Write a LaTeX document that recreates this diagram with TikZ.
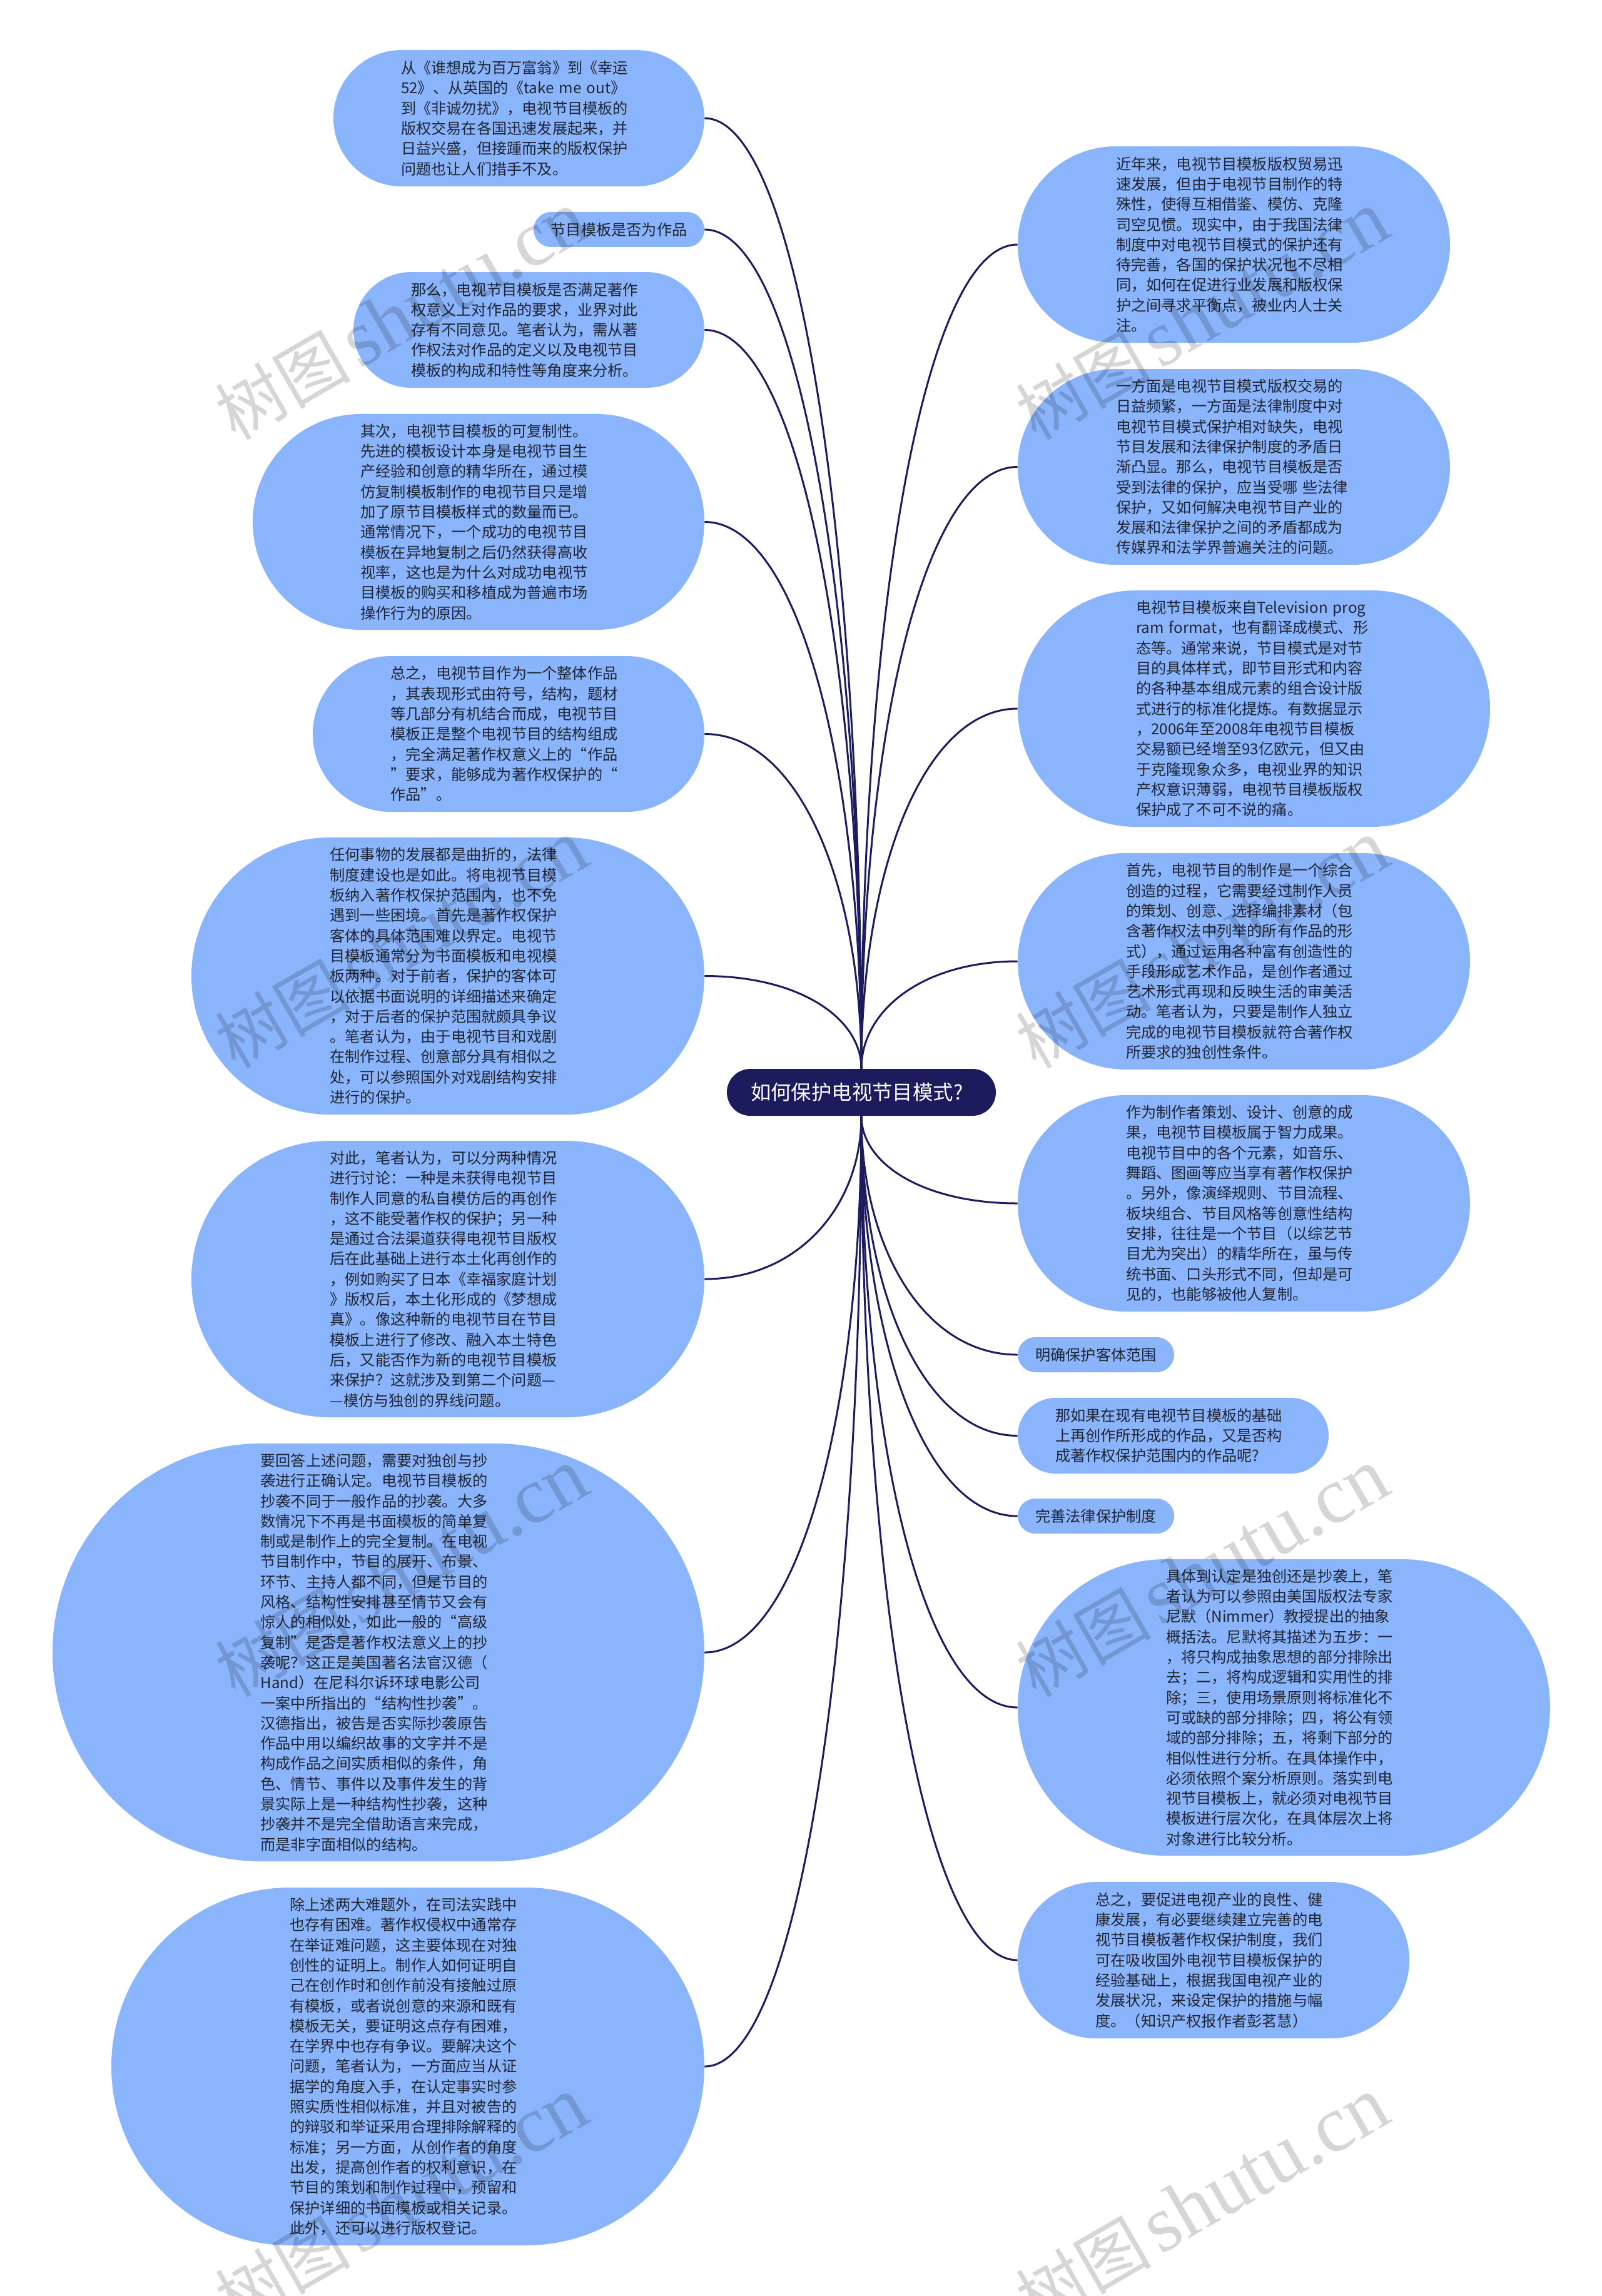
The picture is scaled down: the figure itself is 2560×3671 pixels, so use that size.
\documentclass[tikz,border=0pt]{standalone}
\usepackage{fontspec}
\setmainfont{Noto Sans CJK SC}
\newfontfamily\wmlatin{Liberation Serif}
\usetikzlibrary{calc}
\definecolor{bubfill}{HTML}{8AB4FB}
\definecolor{rootfill}{HTML}{1B1B5E}
\definecolor{bubtext}{HTML}{1F2533}
\tikzset{
  bub/.style={rectangle,fill=bubfill,text=bubtext,inner sep=0pt,font=\fontsize{12.1}{16.15}\selectfont},
  wide/.style={text width=188.5pt,align=left},
  narrow/.style={align=center},
  rootbox/.style={bub,fill=rootfill,text=white,text width=177pt,align=left,font=\fontsize{16.2}{20}\selectfont},
  link/.style={draw=rootfill,line width=1.5pt},
  wmark/.style={text=black,opacity=0.16,rotate=30,inner sep=0pt,font=\fontsize{54}{60}\selectfont}
}
\newcommand{\bubble}[7]{%
  \pgfmathsetmacro\bcx{(#2+#4)/2}%
  \pgfmathsetmacro\bcy{(#3+#5)/2}%
  \pgfmathsetmacro\bw{(#4-#2)*0.5}%
  \pgfmathsetmacro\bh{(#5-#3)*0.5}%
  \pgfmathsetmacro\br{(#5-#3)*0.25}%
  \node[bub,#6,minimum width=\bw pt,minimum height=\bh pt,rounded corners=\br pt] (#1) at (\bcx,\bcy) {#7};%
}
\newcommand{\linkto}[2]{%
  \draw[link] (#1) .. controls ($(#1)!0.55!(#1|-#2)$) and ($(#1|-#2)!0.4!(#2)$) .. (#2);%
}
\newcommand{\wm}[3]{\node[wmark] (#1) at (#2,#3) {树图\hspace{7pt}{\wmlatin\fontsize{64}{70}\selectfont shutu.cn}};}
\begin{document}
\begin{tikzpicture}[x=0.5pt,y=-0.5pt]
\clip (0,0) rectangle (2560,3671);
\fill[white] (0,0) rectangle (2560,3671);
\bubble{root}{1162}{1709}{1592}{1784}{rootbox}{如何保护电视节目模式?}
\bubble{l1}{533}{80}{1126}{298}{wide}{从《谁想成为百万富翁》到《幸运\\52》、从英国的《take me out》\\到《非诚勿扰》，电视节目模板的\\版权交易在各国迅速发展起来，并\\日益兴盛，但接踵而来的版权保护\\问题也让人们措手不及。}
\bubble{l2}{853}{339}{1126}{395}{narrow}{节目模板是否为作品}
\bubble{l3}{565}{435}{1126}{620}{wide}{那么，电视节目模板是否满足著作\\权意义上对作品的要求，业界对此\\存有不同意见。笔者认为，需从著\\作权法对作品的定义以及电视节目\\模板的构成和特性等角度来分析。}
\bubble{l4}{404}{662}{1126}{1007}{wide}{其次，电视节目模板的可复制性。\\先进的模板设计本身是电视节目生\\产经验和创意的精华所在，通过模\\仿复制模板制作的电视节目只是增\\加了原节目模板样式的数量而已。\\通常情况下，一个成功的电视节目\\模板在异地复制之后仍然获得高收\\视率，这也是为什么对成功电视节\\目模板的购买和移植成为普遍市场\\操作行为的原因。}
\bubble{l5}{500}{1049}{1126}{1298}{wide}{总之，电视节目作为一个整体作品\\，其表现形式由符号，结构，题材\\等几部分有机结合而成，电视节目\\模板正是整个电视节目的结构组成\\，完全满足著作权意义上的“作品\\”要求，能够成为著作权保护的“\\作品”。}
\bubble{l6}{306}{1339}{1126}{1782}{wide}{任何事物的发展都是曲折的，法律\\制度建设也是如此。将电视节目模\\板纳入著作权保护范围内，也不免\\遇到一些困境。首先是著作权保护\\客体的具体范围难以界定。电视节\\目模板通常分为书面模板和电视模\\板两种。对于前者，保护的客体可\\以依据书面说明的详细描述来确定\\，对于后者的保护范围就颇具争议\\。笔者认为，由于电视节目和戏剧\\在制作过程、创意部分具有相似之\\处，可以参照国外对戏剧结构安排\\进行的保护。}
\bubble{l7}{306}{1824}{1126}{2266}{wide}{对此，笔者认为，可以分两种情况\\进行讨论：一种是未获得电视节目\\制作人同意的私自模仿后的再创作\\，这不能受著作权的保护；另一种\\是通过合法渠道获得电视节目版权\\后在此基础上进行本土化再创作的\\，例如购买了日本《幸福家庭计划\\》版权后，本土化形成的《梦想成\\真》。像这种新的电视节目在节目\\模板上进行了修改、融入本土特色\\后，又能否作为新的电视节目模板\\来保护？这就涉及到第二个问题—\\—模仿与独创的界线问题。}
\bubble{l8}{84}{2308}{1126}{2976}{wide}{要回答上述问题，需要对独创与抄\\袭进行正确认定。电视节目模板的\\抄袭不同于一般作品的抄袭。大多\\数情况下不再是书面模板的简单复\\制或是制作上的完全复制。在电视\\节目制作中，节目的展开、布景、\\环节、主持人都不同，但是节目的\\风格、结构性安排甚至情节又会有\\惊人的相似处，如此一般的“高级\\复制”是否是著作权法意义上的抄\\袭呢？这正是美国著名法官汉德（\\Hand）在尼科尔诉环球电影公司\\一案中所指出的“结构性抄袭”。\\汉德指出，被告是否实际抄袭原告\\作品中用以编织故事的文字并不是\\构成作品之间实质相似的条件，角\\色、情节、事件以及事件发生的背\\景实际上是一种结构性抄袭，这种\\抄袭并不是完全借助语言来完成，\\而是非字面相似的结构。}
\bubble{l9}{178}{3018}{1126}{3590}{wide}{除上述两大难题外，在司法实践中\\也存有困难。著作权侵权中通常存\\在举证难问题，这主要体现在对独\\创性的证明上。制作人如何证明自\\己在创作时和创作前没有接触过原\\有模板，或者说创意的来源和既有\\模板无关，要证明这点存有困难，\\在学界中也存有争议。要解决这个\\问题，笔者认为，一方面应当从证\\据学的角度入手，在认定事实时参\\照实质性相似标准，并且对被告的\\的辩驳和举证采用合理排除解释的\\标准；另一方面，从创作者的角度\\出发，提高创作者的权利意识，在\\节目的策划和制作过程中，预留和\\保护详细的书面模板或相关记录。\\此外，还可以进行版权登记。}
\bubble{r1}{1627}{234}{2318}{548}{wide}{近年来，电视节目模板版权贸易迅\\速发展，但由于电视节目制作的特\\殊性，使得互相借鉴、模仿、克隆\\司空见惯。现实中，由于我国法律\\制度中对电视节目模式的保护还有\\待完善，各国的保护状况也不尽相\\同，如何在促进行业发展和版权保\\护之间寻求平衡点，被业内人士关\\注。}
\bubble{r2}{1627}{590}{2318}{903}{wide}{一方面是电视节目模式版权交易的\\日益频繁，一方面是法律制度中对\\电视节目模式保护相对缺失，电视\\节目发展和法律保护制度的矛盾日\\渐凸显。那么，电视节目模板是否\\受到法律的保护，应当受哪 些法律\\保护，又如何解决电视节目产业的\\发展和法律保护之间的矛盾都成为\\传媒界和法学界普遍关注的问题。}
\bubble{r3}{1627}{944}{2382}{1322}{wide}{电视节目模板来自Television prog\\ram format，也有翻译成模式、形\\态等。通常来说，节目模式是对节\\目的具体样式，即节目形式和内容\\的各种基本组成元素的组合设计版\\式进行的标准化提炼。有数据显示\\，2006年至2008年电视节目模板\\交易额已经增至93亿欧元，但又由\\于克隆现象众多，电视业界的知识\\产权意识薄弱，电视节目模板版权\\保护成了不可不说的痛。}
\bubble{r4}{1627}{1364}{2350}{1710}{wide}{首先，电视节目的制作是一个综合\\创造的过程，它需要经过制作人员\\的策划、创意、选择编排素材（包\\含著作权法中列举的所有作品的形\\式），通过运用各种富有创造性的\\手段形成艺术作品，是创作者通过\\艺术形式再现和反映生活的审美活\\动。笔者认为，只要是制作人独立\\完成的电视节目模板就符合著作权\\所要求的独创性条件。}
\bubble{r5}{1627}{1751}{2350}{2097}{wide}{作为制作者策划、设计、创意的成\\果，电视节目模板属于智力成果。\\电视节目中的各个元素，如音乐、\\舞蹈、图画等应当享有著作权保护\\。另外，像演绎规则、节目流程、\\板块组合、节目风格等创意性结构\\安排，往往是一个节目（以综艺节\\目尤为突出）的精华所在，虽与传\\统书面、口头形式不同，但却是可\\见的，也能够被他人复制。}
\bubble{r6}{1627}{2138}{1877}{2194}{narrow}{明确保护客体范围}
\bubble{r7}{1627}{2235}{2124}{2356}{wide}{那如果在现有电视节目模板的基础\\上再创作所形成的作品，又是否构\\成著作权保护范围内的作品呢?}
\bubble{r8}{1627}{2396}{1877}{2452}{narrow}{完善法律保护制度}
\bubble{r9}{1627}{2493}{2478}{2967}{wide}{具体到认定是独创还是抄袭上，笔\\者认为可以参照由美国版权法专家\\尼默（Nimmer）教授提出的抽象\\概括法。尼默将其描述为五步：一\\，将只构成抽象思想的部分排除出\\去；二，将构成逻辑和实用性的排\\除；三，使用场景原则将标准化不\\可或缺的部分排除；四，将公有领\\域的部分排除；五，将剩下部分的\\相似性进行分析。在具体操作中，\\必须依照个案分析原则。落实到电\\视节目模板上，就必须对电视节目\\模板进行层次化，在具体层次上将\\对象进行比较分析。}
\bubble{r10}{1627}{3009}{2253}{3259}{wide}{总之，要促进电视产业的良性、健\\康发展，有必要继续建立完善的电\\视节目模板著作权保护制度，我们\\可在吸收国外电视节目模板保护的\\经验基础上，根据我国电视产业的\\发展状况，来设定保护的措施与幅\\度。（知识产权报作者彭茗慧）}
\linkto{root.north}{l1.east}
\linkto{root.north}{l2.east}
\linkto{root.north}{l3.east}
\linkto{root.north}{l4.east}
\linkto{root.north}{l5.east}
\linkto{root.north}{l6.east}
\linkto{root.south}{l7.east}
\linkto{root.south}{l8.east}
\linkto{root.south}{l9.east}
\linkto{root.north}{r1.west}
\linkto{root.north}{r2.west}
\linkto{root.north}{r3.west}
\linkto{root.north}{r4.west}
\linkto{root.south}{r5.west}
\linkto{root.south}{r6.west}
\linkto{root.south}{r7.west}
\linkto{root.south}{r8.west}
\linkto{root.south}{r9.west}
\linkto{root.south}{r10.west}
\wm{wa}{642}{505}
\wm{wb}{1922}{505}
\wm{wc}{642}{1510}
\wm{wd}{1922}{1510}
\wm{we}{642}{2515}
\wm{wf}{1922}{2515}
\wm{wg}{642}{3520}
\wm{wh}{1922}{3520}
\end{tikzpicture}
\end{document}
